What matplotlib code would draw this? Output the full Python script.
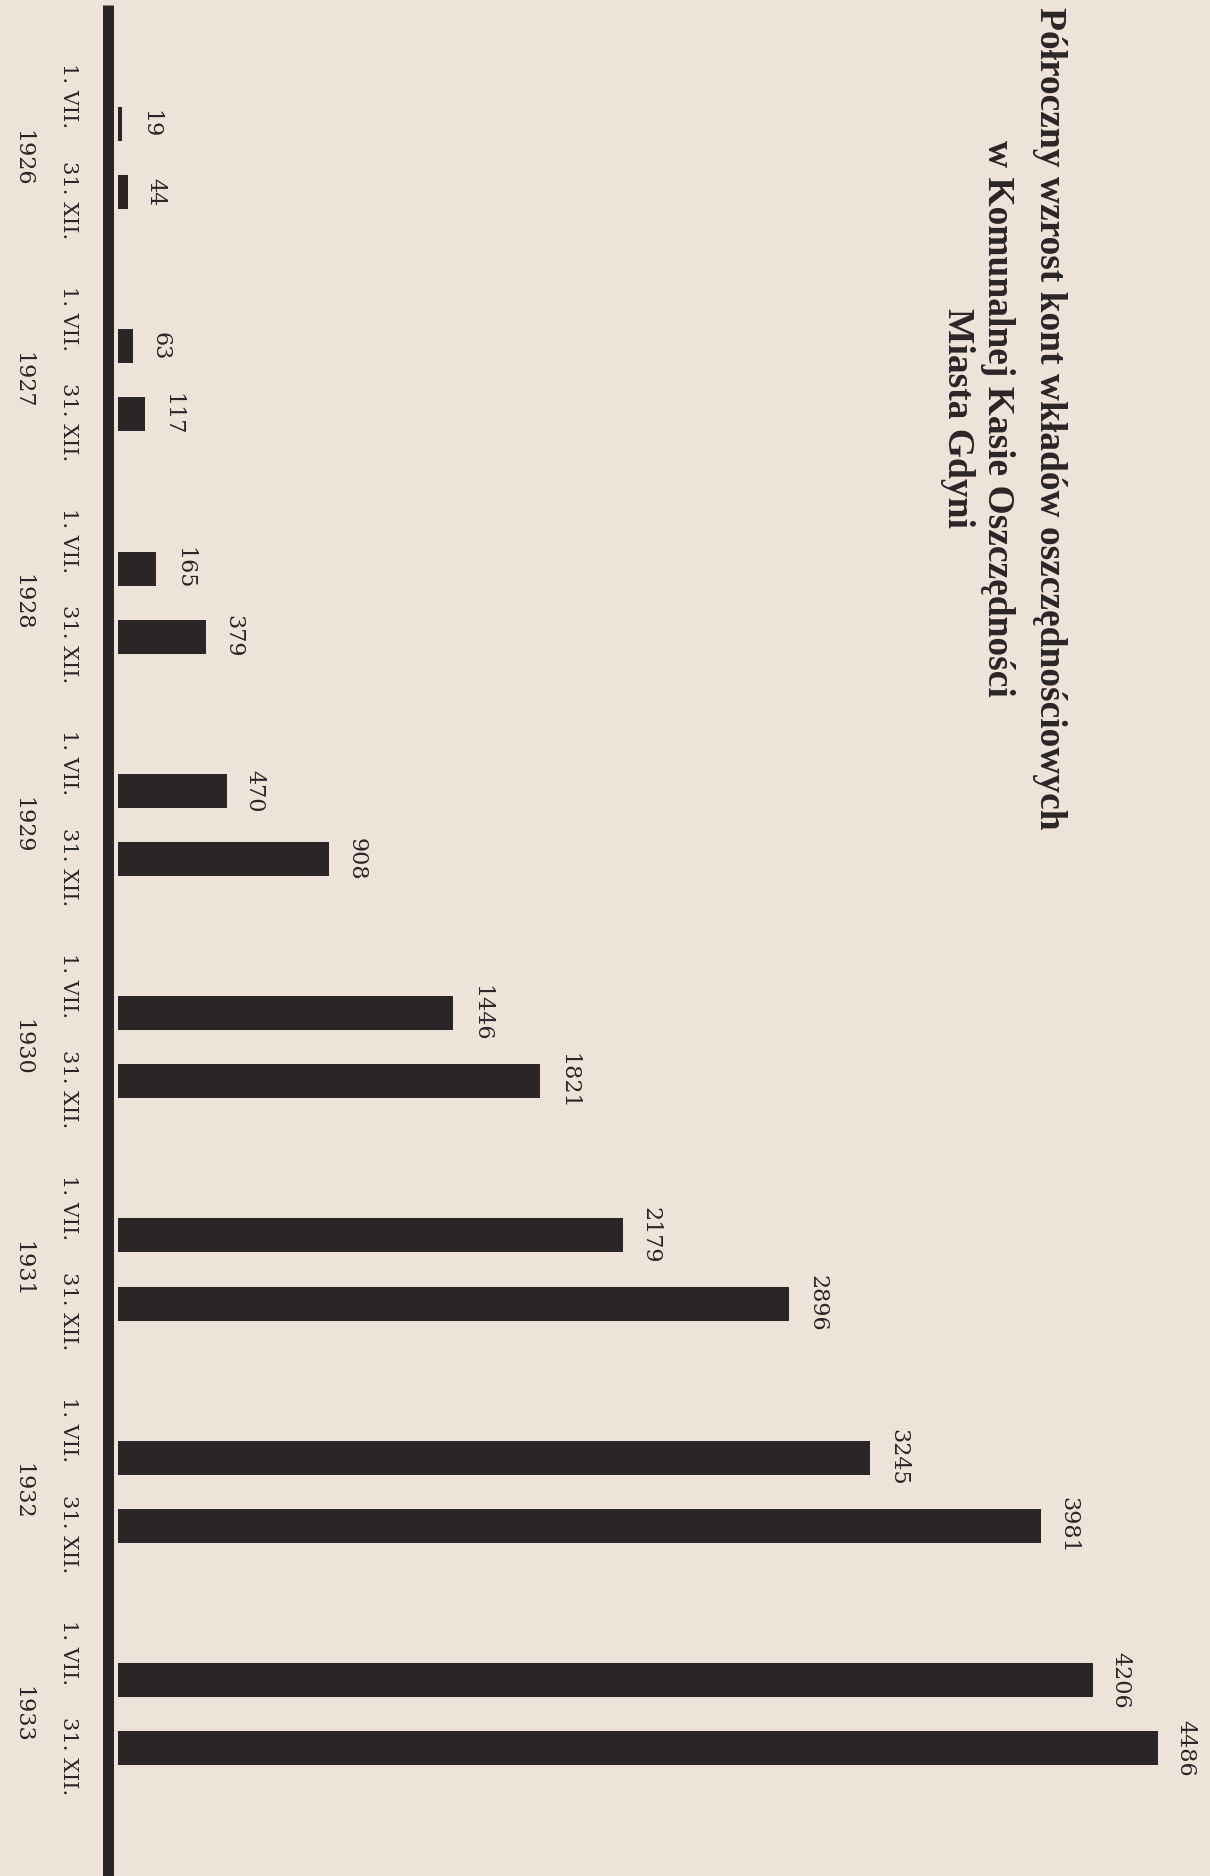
import matplotlib
matplotlib.use("Agg")
import matplotlib.pyplot as plt
from matplotlib.transforms import blended_transform_factory

# ---- data ----
years = ["1926", "1927", "1928", "1929", "1930", "1931", "1932", "1933"]
date_labels = ["1. VII.", "31. XII."]
values_jul = [19, 63, 165, 470, 1446, 2179, 3245, 4206]
values_dec = [44, 117, 379, 908, 1821, 2896, 3981, 4486]
title_lines = [
    "Półroczny wzrost kont wkładów oszczędnościowych",
    "w Komunalnej Kasie Oszczędności",
    "Miasta Gdyni",
]

# ---- layout ----
W, H = 1210, 1876
bg = "#ede3d8"
ink = "#2a2526"

fig = plt.figure(figsize=(W / 100, H / 100), dpi=100)
fig.patch.set_facecolor(bg)
ax = fig.add_axes([0, 0, 1, 1])
ax.set_facecolor(bg)

x0_px = 118.0          # where bars start
xmax_val = 4486.0
xmax_px = 1158.0
sx = (xmax_px - x0_px) / xmax_val   # px per unit
y0_px = 124.0
sy = 222.3                          # px per year slot
half_off = 68.0 / sy
bar_h = 34.0 / sy

ax.set_xlim(-x0_px / sx, (W - x0_px) / sx)
ax.set_ylim((H - y0_px) / sy, -y0_px / sy)
ax.axis("off")

ypos_jul = [i for i in range(len(years))]
ypos_dec = [i + half_off for i in range(len(years))]

ax.barh(ypos_jul, values_jul, height=bar_h, left=0, color=ink, zorder=3)
ax.barh(ypos_dec, values_dec, height=bar_h, left=0, color=ink, zorder=3)

# vertical base line
ax.axvline(x=(108 - x0_px) / sx, ymin=0, ymax=1 - 5 / H, color=ink,
           linewidth=11 * 72 / 100, solid_capstyle="butt", zorder=4)

serif = ["DejaVu Serif"]
num_size = 16
lab_size = 15

# value labels
for ys, vals in ((ypos_jul, values_jul), (ypos_dec, values_dec)):
    for y, v in zip(ys, vals):
        ax.annotate(str(v), (v, y), xytext=(12, 0), textcoords="offset points",
                    rotation=270, ha="left", va="center", fontsize=num_size,
                    family=serif, color=ink)

tr = blended_transform_factory(ax.transAxes, ax.transData)
for i, yr in enumerate(years):
    ax.text(68 / W, ypos_jul[i] - 28 / sy, date_labels[0], transform=tr,
            rotation=270, ha="center", va="center", fontsize=lab_size,
            family=serif, color=ink)
    ax.text(68 / W, ypos_dec[i] + 8 / sy, date_labels[1], transform=tr,
            rotation=270, ha="center", va="center", fontsize=lab_size,
            family=serif, color=ink)
    ax.text(22 / W, (ypos_jul[i] + ypos_dec[i]) / 2, yr, transform=tr,
            rotation=270, ha="center", va="center", fontsize=num_size,
            family=serif, color=ink)

# title (rotated, right side)
title_x = [1050, 998, 958]
for line, xp in zip(title_lines, title_x):
    fig.text(xp / W, 1 - 418 / H, line, rotation=270, ha="center", va="center",
             fontsize=27, fontweight="bold", family=["Liberation Serif"],
             color=ink)

fig.savefig("out.png", dpi=100, facecolor=bg)
